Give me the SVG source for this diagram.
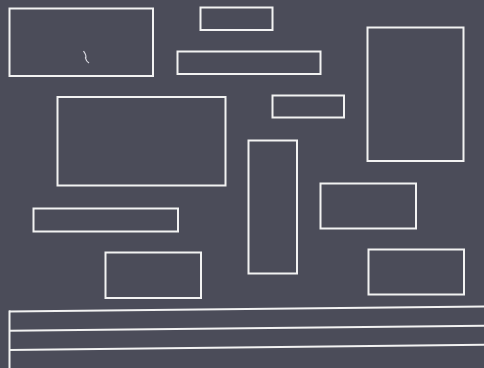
<svg xmlns="http://www.w3.org/2000/svg" width="484" height="368" viewBox="0 0 484 368">
<style>
.b{fill:none;stroke:#f2f2f2;stroke-width:2}
</style>
<rect width="484" height="368" fill="#4b4c59"/>
<g id="n1"><rect class="b" x="9.5" y="8.5" width="143.5" height="67.5"/></g>
<g id="n2"><rect class="b" x="200.5" y="7.5" width="72" height="22.5"/></g>
<g id="n3"><rect class="b" x="177.5" y="51.5" width="143" height="22.5"/></g>
<g id="n4"><rect class="b" x="57.5" y="97" width="168" height="88.5"/></g>
<g id="n5"><rect class="b" x="272.5" y="95.5" width="71.5" height="22"/></g>
<g id="n6"><rect class="b" x="367.5" y="27.5" width="96" height="133.5"/></g>
<g id="n7"><rect class="b" x="248.5" y="140.5" width="48.5" height="133"/></g>
<g id="n8"><rect class="b" x="320.5" y="183.5" width="95.5" height="45"/></g>
<g id="n9"><rect class="b" x="33.5" y="208.5" width="144.5" height="23"/></g>
<g id="n10"><rect class="b" x="105.5" y="252.5" width="95.5" height="45.5"/></g>
<g id="n11"><rect class="b" x="368.5" y="249.5" width="95.5" height="45"/></g>
<g id="frame">
<line class="b" x1="9" y1="311.5" x2="484" y2="306.5"/>
<line class="b" x1="9" y1="330.8" x2="484" y2="325.8"/>
<line class="b" x1="9" y1="350" x2="484" y2="344.8"/>
<line class="b" x1="9.5" y1="310.5" x2="9.5" y2="368"/>
</g>
<path d="M83.5,51 Q87,56 85.5,58 Q86,61 89,63" fill="none" stroke="#d8d8e0" stroke-width="1.3"/>
</svg>
